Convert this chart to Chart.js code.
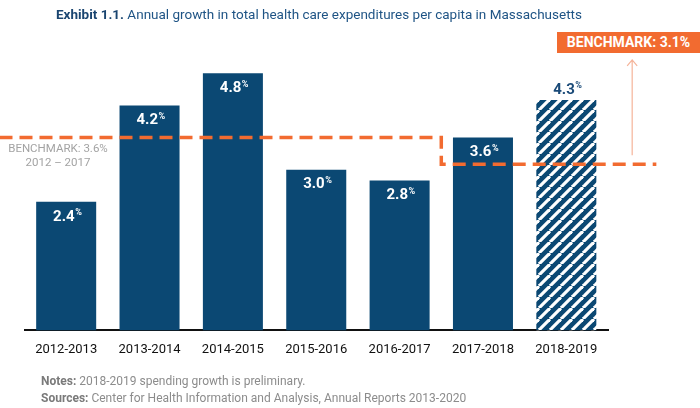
<!DOCTYPE html>
<html lang="en">
<head>
<meta charset="UTF-8">
<title>Exhibit 1.1</title>
<script src="https://cdn.jsdelivr.net/npm/chart.js"></script>
<style>
  html, body { margin: 0; padding: 0; background: #fff; }
  body { width: 700px; height: 408px; position: relative; overflow: hidden; font-family: Roboto, "Noto Sans", sans-serif; }
  #wrap { position: absolute; left: 0; top: 0; width: 700px; height: 408px; }
  .titulo { position: absolute; left: 56px; top: 6px; font-size: 13.5px; color: #1f5485; white-space: nowrap; }
  .titulo b { color: #1a4570; }
  .bench { position: absolute; left: 557px; top: 32px; width: 143px; height: 21px; background: #f26b30;
           color: #fff; font-weight: bold; font-size: 14px; line-height: 21px; text-align: center; white-space: nowrap; }
  .bench-antigo { position: absolute; left: 4px; top: 141px; width: 108px; text-align: center; font-size: 11.5px;
                  line-height: 14px; color: #a3a3a3; }
  .notas { position: absolute; left: 41px; top: 373px; font-size: 12px; line-height: 17px; color: #8c8c8c; white-space: nowrap; }
  .notas b { color: #7a7a7a; }
</style>
</head>
<body>
<div id="wrap"><canvas id="grafico" width="700" height="408"></canvas></div>
<div class="titulo"><b>Exhibit 1.1.</b> Annual growth in total health care expenditures per capita in Massachusetts</div>
<div class="bench">BENCHMARK: 3.1%</div>
<div class="bench-antigo">BENCHMARK: 3.6%<br>2012 – 2017</div>
<div class="notas"><b>Notes:</b> 2018-2019 spending growth is preliminary.<br><b>Sources:</b> Center for Health Information and Analysis, Annual Reports 2013-2020</div>

<script>
    // dados
    const periodos = ["2012-2013", "2013-2014", "2014-2015", "2015-2016", "2016-2017", "2017-2018", "2018-2019"];
    const crescimento = [2.4, 4.2, 4.8, 3.0, 2.8, 3.6, 4.3];
    const preliminar = [false, false, false, false, false, false, true];

    // benchmark: 3.6% ate 2016-2017, depois 3.1%
    const benchmarkValores = [3.6, 3.1];
    const benchmarkInicio = -0.8;   // linha começa antes do eixo
    const benchmarkFim = 7.08;      // e passa do ultimo periodo
    const benchmarkTroca = periodos.indexOf("2017-2018") - 0.5;

    const azul = "#0b4873";
    const laranja = "#f26b30";

    // padrao listrado para o ano preliminar
    function criarListras() {
        const s = 11;
        const c = document.createElement("canvas");
        c.width = s; c.height = s;
        const g = c.getContext("2d");
        g.fillStyle = azul;
        g.fillRect(0, 0, s, s);
        g.strokeStyle = "#ffffff";
        g.lineWidth = 3.2;
        for (const k of [-s, 0, s]) {
            g.beginPath();
            g.moveTo(k, s);
            g.lineTo(k + s, 0);
            g.stroke();
        }
        return g.createPattern(c, "repeat");
    }
    const listras = criarListras();

    const linhaBenchmark = [
        { x: benchmarkInicio, y: benchmarkValores[0] },
        { x: benchmarkTroca, y: benchmarkValores[0] },
        { x: benchmarkTroca, y: benchmarkValores[1] },
        { x: benchmarkFim, y: benchmarkValores[1] }
    ];

    // rotulos de valor com "%" pequeno
    const rotulos = {
        id: "rotulos",
        afterDatasetsDraw(chart) {
            const ctx = chart.ctx;
            const meta = chart.getDatasetMeta(0);
            ctx.save();
            meta.data.forEach((bar, i) => {
                const txt = crescimento[i].toFixed(1);
                ctx.font = "bold 15px Roboto";
                const w1 = ctx.measureText(txt).width;
                ctx.font = "bold 9px Roboto";
                const w2 = ctx.measureText("%").width;
                const x0 = bar.x - (w1 + w2) / 2 + 1;
                const y = preliminar[i] ? bar.y - 10 : bar.y + 15;
                ctx.fillStyle = preliminar[i] ? "#1a4a78" : "#ffffff";
                ctx.textBaseline = "middle";
                ctx.textAlign = "left";
                ctx.font = "bold 15px Roboto";
                ctx.fillText(txt, x0, y);
                ctx.font = "bold 9px Roboto";
                ctx.fillText("%", x0 + w1 + 0.5, y - 4);
            });
            ctx.restore();
        }
    };

    // seta fina apontando para o rotulo do benchmark
    const seta = {
        id: "seta",
        afterDraw(chart) {
            const ctx = chart.ctx;
            const xb = chart.scales.xb;
            const y = chart.scales.y;
            const x = xb.getPixelForValue(6.79);
            const yBase = y.getPixelForValue(3.27);
            const yTopo = y.getPixelForValue(5.05);
            ctx.save();
            ctx.strokeStyle = "#f5b49a";
            ctx.lineWidth = 1.2;
            ctx.beginPath();
            ctx.moveTo(x, yBase);
            ctx.lineTo(x, yTopo);
            ctx.moveTo(x - 5, yTopo + 6);
            ctx.lineTo(x, yTopo);
            ctx.lineTo(x + 5, yTopo + 6);
            ctx.stroke();
            ctx.restore();
        }
    };

    new Chart(document.getElementById("grafico"), {
        data: {
            labels: periodos,
            datasets: [
                {
                    type: "bar",
                    data: crescimento,
                    backgroundColor: preliminar.map(p => p ? listras : azul),
                    borderWidth: 0,
                    grouped: false,
                    barPercentage: 0.72,
                    categoryPercentage: 1,
                    order: 2
                },
                {
                    type: "line",
                    data: linhaBenchmark,
                    xAxisID: "xb",
                    borderColor: laranja,
                    borderWidth: 3.5,
                    borderDash: [13, 7],
                    pointRadius: 0,
                    fill: false,
                    tension: 0,
                    clip: false,
                    order: 1
                }
            ]
        },
        options: {
            responsive: false,
            animation: false,
            events: [],
            layout: { padding: { left: 24.5, right: 92, top: 9, bottom: 38 } },
            plugins: { legend: { display: false }, tooltip: { enabled: false } },
            scales: {
                x: {
                    type: "category",
                    grid: { display: false, drawTicks: false },
                    border: { display: true, color: "#111111", width: 2 },
                    ticks: { color: "#111111", font: { family: "Roboto", size: 13 }, padding: 12, maxRotation: 0 }
                },
                xb: {
                    type: "linear",
                    display: false,
                    min: -0.5,
                    max: 6.5
                },
                y: {
                    display: false,
                    min: 0,
                    max: 6
                }
            }
        },
        plugins: [rotulos, seta]
    });
</script>
</body>
</html>
